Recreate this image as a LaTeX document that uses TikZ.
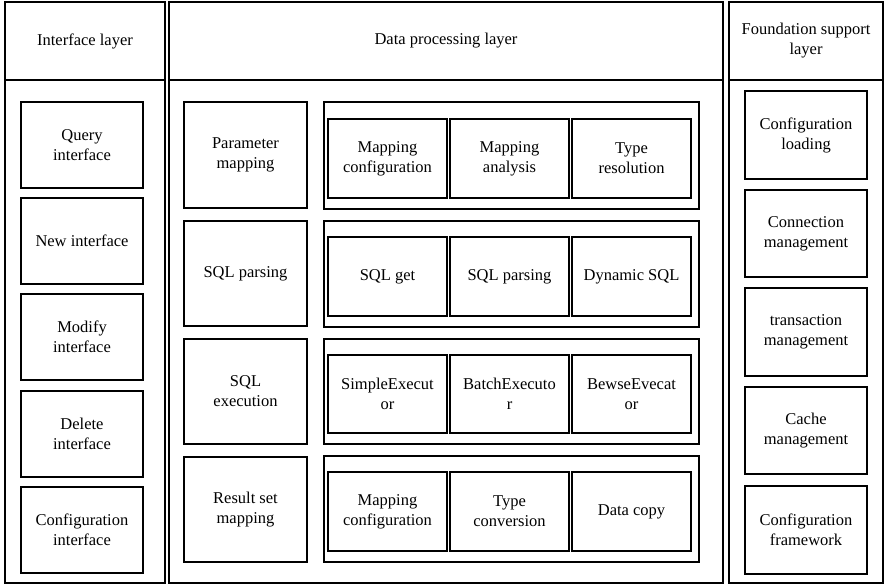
\documentclass[tikz,border=0pt]{standalone}
\usepackage{fontspec}
\setmainfont{Liberation Serif}
\begin{document}
\begin{tikzpicture}[x=1pt,y=-1pt,
  colbox/.style={draw, line width=1.1pt, inner sep=0pt, outer sep=0pt},
  box/.style={draw, line width=1.4pt, inner sep=1pt, outer sep=0pt,
    align=center, font=\fontsize{16.5}{20}\selectfont},
  grp/.style={draw, line width=1.4pt, inner sep=0pt, outer sep=0pt},
  head/.style={colbox, align=center, font=\fontsize{16.5}{20}\selectfont}]
\useasboundingbox (0,0) rectangle (885,585);
% place a box given its corners (x1,y1) and (x2,y2)
\newcommand\bx[7]{%
  \pgfmathsetmacro\myw{#5-#3}\pgfmathsetmacro\myh{#6-#4}%
  \node[#1, minimum width=\myw pt, minimum height=\myh pt] (#2)
    at ({(#3+#5)/2},{(#4+#6)/2}) {#7};}

% the three layer columns
\bx{head}{ihead}{5}{2}{165}{80}{Interface layer}
\bx{colbox}{ibody}{5}{80}{165}{583}{}
\bx{head}{dhead}{169}{2}{723}{80}{Data processing layer}
\bx{colbox}{dbody}{169}{80}{723}{583}{}
\bx{head}{fhead}{729}{2}{883}{80}{Foundation support\\layer}
\bx{colbox}{fbody}{729}{80}{883}{583}{}

% interface layer
\bx{box}{i1}{21}{102}{143}{188}{Query\\interface}
\bx{box}{i2}{21}{198}{143}{284}{New interface}
\bx{box}{i3}{21}{294}{143}{380}{Modify\\interface}
\bx{box}{i4}{21}{391}{143}{477}{Delete\\interface}
\bx{box}{i5}{21}{487}{143}{573}{Configuration\\interface}

% data processing layer: stages
\bx{box}{p1}{184}{102}{307}{208}{Parameter\\mapping}
\bx{box}{p2}{184}{221}{307}{326}{SQL parsing}
\bx{box}{p3}{184}{339}{307}{444}{SQL\\execution}
\bx{box}{p4}{184}{457}{307}{562}{Result set\\mapping}

% data processing layer: groups of components
\bx{grp}{g1}{324}{102}{699}{209}{}
\bx{grp}{g2}{324}{221}{699}{327}{}
\bx{grp}{g3}{324}{339}{699}{444}{}
\bx{grp}{g4}{324}{456}{699}{562}{}

\bx{box}{c11}{328}{119}{447}{198}{Mapping\\configuration}
\bx{box}{c12}{450}{119}{569}{198}{Mapping\\analysis}
\bx{box}{c13}{572}{119}{691}{198}{Type\\resolution}

\bx{box}{c21}{328}{237}{447}{316}{SQL get}
\bx{box}{c22}{450}{237}{569}{316}{SQL parsing}
\bx{box}{c23}{572}{237}{691}{316}{Dynamic SQL}

\bx{box}{c31}{328}{355}{447}{433}{SimpleExecut\\or}
\bx{box}{c32}{450}{355}{569}{433}{BatchExecuto\\r}
\bx{box}{c33}{572}{355}{691}{433}{BewseEvecat\\or}

\bx{box}{c41}{328}{472}{447}{551}{Mapping\\configuration}
\bx{box}{c42}{450}{472}{569}{551}{Type\\conversion}
\bx{box}{c43}{572}{472}{691}{551}{Data copy}

% foundation support layer
\bx{box}{f1}{745}{91}{867}{179}{Configuration\\loading}
\bx{box}{f2}{745}{190}{867}{277}{Connection\\management}
\bx{box}{f3}{745}{288}{867}{376}{transaction\\management}
\bx{box}{f4}{745}{387}{867}{474}{Cache\\management}
\bx{box}{f5}{745}{486}{867}{574}{Configuration\\framework}
\end{tikzpicture}
\end{document}
